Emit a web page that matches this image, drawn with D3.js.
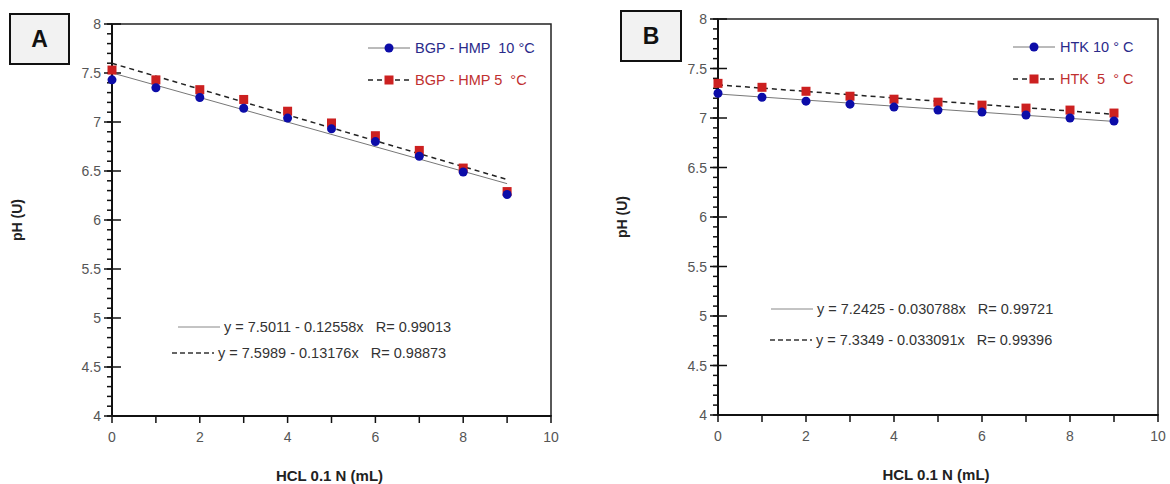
<!DOCTYPE html>
<html>
<head>
<meta charset="utf-8">
<script src="https://cdn.jsdelivr.net/npm/d3@7"></script>
<style>
  body { margin: 0; background: #fff; }
  text { font-family: "Liberation Sans", Arial, sans-serif; white-space: pre; }
</style>
</head>
<body>
<div id="chart-area"></div>
<script>
// data
const volume = [0, 1, 2, 3, 4, 5, 6, 7, 8, 9];

const phA10 = [7.43, 7.35, 7.25, 7.14, 7.04, 6.93, 6.80, 6.65, 6.49, 6.26];
const phA5  = [7.53, 7.43, 7.33, 7.23, 7.11, 6.99, 6.86, 6.71, 6.53, 6.29];
const phB10 = [7.25, 7.21, 7.17, 7.14, 7.11, 7.08, 7.06, 7.03, 7.00, 6.97];
const phB5  = [7.35, 7.31, 7.27, 7.22, 7.19, 7.16, 7.13, 7.10, 7.08, 7.05];

// linear fits [intercept, slope]
const fitA10 = [7.5011, -0.12558];
const fitA5  = [7.5989, -0.13176];
const fitB10 = [7.2425, -0.030788];
const fitB5  = [7.3349, -0.033091];

const legendA = ["BGP - HMP  10 \u00B0C", "BGP - HMP 5  \u00B0C"];
const legendB = ["HTK 10 \u00B0 C", "HTK  5  \u00B0 C"];
const eqA = ["y = 7.5011 - 0.12558x   R= 0.99013", "y = 7.5989 - 0.13176x   R= 0.98873"];
const eqB = ["y = 7.2425 - 0.030788x   R= 0.99721", "y = 7.3349 - 0.033091x   R= 0.99396"];

const yTicks = [4, 4.5, 5, 5.5, 6, 6.5, 7, 7.5, 8];
const xTicks = [0, 2, 4, 6, 8, 10];

const W = 1170, H = 484;
const blue = "#0c0ca8", red = "#cc2020";

var svg = d3.select("#chart-area")
  .append("svg")
    .attr("width", W)
    .attr("height", H);

function drawPanel(p) {
  var g = svg.append("g");

  var x = d3.scaleLinear().domain([0, 10]).range([p.left, p.right]);
  var y = d3.scaleLinear().domain([4, 8]).range([p.bottom, p.top]);

  // frame
  g.append("rect")
    .attr("x", p.left).attr("y", p.top)
    .attr("width", p.right - p.left).attr("height", p.bottom - p.top)
    .attr("fill", "none").attr("stroke", "#222").attr("stroke-width", 1.5);

  // y axis: minor ticks, then major ticks crossing the axis
  var yMinor = d3.range(40, 81).map((d) => d / 10);
  g.selectAll(".ymin")
    .data(yMinor)
    .enter().append("line")
      .attr("x1", p.left - 5).attr("x2", p.left)
      .attr("y1", (d) => y(d)).attr("y2", (d) => y(d))
      .attr("stroke", "#111").attr("stroke-width", 1.5);
  g.selectAll(".ymaj")
    .data(yTicks)
    .enter().append("line")
      .attr("x1", p.left - 8).attr("x2", p.left + 9)
      .attr("y1", (d) => y(d)).attr("y2", (d) => y(d))
      .attr("stroke", "#111").attr("stroke-width", 1.5);
  g.selectAll(".ylab")
    .data(yTicks)
    .enter().append("text")
      .attr("x", p.left - 11)
      .attr("y", (d) => y(d) + 5)
      .attr("text-anchor", "end")
      .attr("font-size", 14)
      .attr("fill", "#555")
      .text((d) => d);

  // x axis ticks
  g.selectAll(".xt")
    .data(d3.range(0, 11))
    .enter().append("line")
      .attr("x1", (d) => x(d)).attr("x2", (d) => x(d))
      .attr("y1", p.bottom - 1).attr("y2", p.bottom + 7)
      .attr("stroke", "#111").attr("stroke-width", 1.5);
  g.selectAll(".xlab")
    .data(xTicks)
    .enter().append("text")
      .attr("x", (d) => x(d))
      .attr("y", p.bottom + 26)
      .attr("text-anchor", "middle")
      .attr("font-size", 14)
      .attr("fill", "#555")
      .text((d) => d);

  // axis lines
  g.append("line")
    .attr("x1", p.left).attr("x2", p.left)
    .attr("y1", p.top).attr("y2", p.bottom + 1)
    .attr("stroke", "#111").attr("stroke-width", 2);
  g.append("line")
    .attr("x1", p.left).attr("x2", p.right)
    .attr("y1", p.bottom).attr("y2", p.bottom)
    .attr("stroke", "#111").attr("stroke-width", 2);

  // axis titles
  g.append("text")
    .attr("transform", "translate(" + p.yTitleX + "," + ((p.top + p.bottom) / 2) + ") rotate(-90)")
    .attr("text-anchor", "middle")
    .attr("font-size", 14).attr("font-weight", "bold")
    .attr("fill", "#222")
    .text("pH (U)");
  g.append("text")
    .attr("x", (p.left + p.right) / 2 - 2)
    .attr("y", p.bottom + 65)
    .attr("text-anchor", "middle")
    .attr("font-size", 15).attr("font-weight", "bold")
    .attr("fill", "#222")
    .text("HCL 0.1 N (mL)");

  // fitted lines
  var fitLine = d3.line().x((d) => x(d[0])).y((d) => y(d[1]));
  function fitPts(f) { return [0, 9].map((v) => [v, f[0] + f[1] * v]); }
  g.append("path")
    .attr("d", fitLine(fitPts(p.fit10)))
    .attr("fill", "none").attr("stroke", "#777").attr("stroke-width", 1);
  g.append("path")
    .attr("d", fitLine(fitPts(p.fit5)))
    .attr("fill", "none").attr("stroke", "#222").attr("stroke-width", 1.5)
    .attr("stroke-dasharray", "5,4");

  // points
  g.selectAll(".sq")
    .data(volume)
    .enter().append("rect")
      .attr("x", (d) => x(d) - 4.5)
      .attr("y", (d, i) => y(p.ph5[i]) - 4.5)
      .attr("width", 9).attr("height", 9)
      .attr("fill", red);
  g.selectAll(".ci")
    .data(volume)
    .enter().append("circle")
      .attr("cx", (d) => x(d))
      .attr("cy", (d, i) => y(p.ph10[i]))
      .attr("r", 4.5)
      .attr("fill", blue);

  // legend
  var lx = p.legX, ly = p.legY;
  g.append("line")
    .attr("x1", lx).attr("x2", lx + 42).attr("y1", ly).attr("y2", ly)
    .attr("stroke", "#777").attr("stroke-width", 1);
  g.append("circle").attr("cx", lx + 21).attr("cy", ly).attr("r", 4.5).attr("fill", blue);
  g.append("text")
    .attr("x", lx + 47).attr("y", ly + 5)
    .attr("font-size", 14.5).attr("fill", "#2a2a8a")
    .text(p.legend[0]);
  g.append("line")
    .attr("x1", lx).attr("x2", lx + 42).attr("y1", ly + 32).attr("y2", ly + 32)
    .attr("stroke", "#222").attr("stroke-width", 1.5).attr("stroke-dasharray", "5,4");
  g.append("rect").attr("x", lx + 16.5).attr("y", ly + 27.5).attr("width", 9).attr("height", 9).attr("fill", red);
  g.append("text")
    .attr("x", lx + 47).attr("y", ly + 37)
    .attr("font-size", 14.5).attr("fill", "#c03030")
    .text(p.legend[1]);

  // equations
  p.eqs.forEach((e, i) => {
    var ey = p.eqY[i];
    g.append("line")
      .attr("x1", p.eqX[i]).attr("x2", p.eqX[i] + 42).attr("y1", ey).attr("y2", ey)
      .attr("stroke", i == 0 ? "#888" : "#333")
      .attr("stroke-width", i == 0 ? 1 : 1.3)
      .attr("stroke-dasharray", i == 0 ? null : "5,3");
    g.append("text")
      .attr("x", p.eqX[i] + 46).attr("y", ey + 5)
      .attr("font-size", 14.5).attr("fill", "#333")
      .text(e);
  });

  // panel letter box
  svg.append("rect")
    .attr("x", p.box[0]).attr("y", p.box[1])
    .attr("width", p.box[2]).attr("height", p.box[3])
    .attr("fill", "#f2f2f2").attr("stroke", "#111").attr("stroke-width", 2);
  svg.append("text")
    .attr("x", p.box[0] + p.box[2] / 2)
    .attr("y", p.box[1] + p.box[3] / 2 + 8)
    .attr("text-anchor", "middle")
    .attr("font-size", 23).attr("font-weight", "bold")
    .attr("font-family", "Carlito, Calibri, 'Liberation Sans', Arial, sans-serif")
    .attr("fill", "#111")
    .text(p.letter);
}

drawPanel({
  letter: "A", box: [10, 14, 59, 50],
  left: 112, right: 551, top: 24, bottom: 416, yTitleX: 22,
  ph10: phA10, ph5: phA5, fit10: fitA10, fit5: fitA5,
  legend: legendA, legX: 368, legY: 48,
  eqs: eqA, eqX: [178, 172], eqY: [327, 353]
});

drawPanel({
  letter: "B", box: [621, 11, 60, 50],
  left: 718, right: 1158, top: 19, bottom: 415, yTitleX: 627,
  ph10: phB10, ph5: phB5, fit10: fitB10, fit5: fitB5,
  legend: legendB, legX: 1013, legY: 47,
  eqs: eqB, eqX: [771, 770], eqY: [309, 340]
});
</script>
</body>
</html>
